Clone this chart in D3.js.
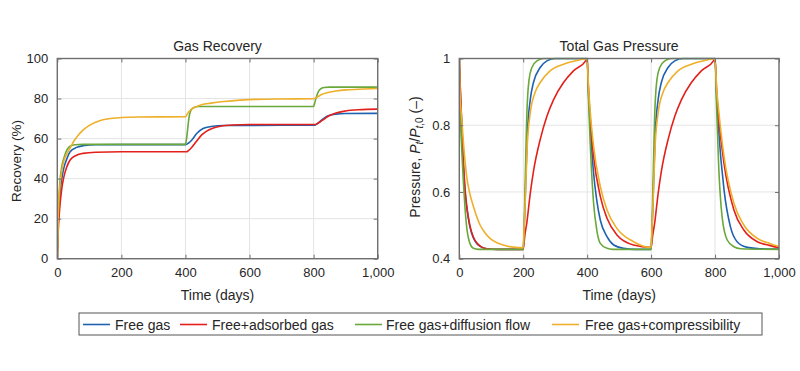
<!DOCTYPE html>
<html><head><meta charset="utf-8">
<script src="https://cdn.jsdelivr.net/npm/d3@7"></script>
<style>
body{margin:0;background:#fff}
svg{display:block}
text{font-family:"Liberation Sans",Arial,Helvetica,sans-serif;fill:#262626}
</style>
</head><body>
<svg id="c" width="800" height="371"></svg>
<script>
// ---------- data ----------
const seriesNames = ["Free gas", "Free+adsorbed gas", "Free gas+diffusion flow", "Free gas+compressibility"];
const seriesColors = ["#1f62b0", "#e3201b", "#6aa83a", "#eeaf2a"];

const xTicks = [0, 200, 400, 600, 800, 1000];
const xTickLabels = ["0", "200", "400", "600", "800", "1,000"];
const recYTicks = [0, 20, 40, 60, 80, 100];
const recYTickLabels = ["0", "20", "40", "60", "80", "100"];
const presYTicks = [0.4, 0.6, 0.8, 1];
const presYTickLabels = ["0.4", "0.6", "0.8", "1"];

// Gas recovery (%) vs time (days)
const recFree = [[0,0],[3,18],[8,32],[14,40],[20,45],[30,50],[40,53.4],[60,55.6],[80,56.4],[120,56.9],[200,57],[400,57],[410,57.8],[420,59.3],[435,62.5],[455,65],[480,66],[520,66.5],[600,66.6],[803,66.7],[810,67.3],[820,68.6],[835,70.5],[850,71.6],[870,72.2],[900,72.5],[1000,72.6]];
const recAdsorbed = [[0,0],[3,14],[8,26],[14,35],[20,40.5],[30,46],[40,49.3],[60,51.7],[80,52.6],[120,53.2],[200,53.4],[403,53.4],[410,54.1],[420,55.7],[435,58.8],[450,61.7],[465,63.6],[485,65.2],[510,66.2],[550,66.8],[600,67],[805,67],[812,67.5],[820,68.3],[835,70],[850,71.5],[870,72.8],[900,73.8],[940,74.4],[1000,74.7]];
const recDiffusion = [[0,0],[3,22],[8,38],[14,46],[20,50],[30,54.3],[40,56.2],[55,56.9],[80,57.1],[400,57.1],[402,58.5],[405,62],[408,66.5],[411,70.5],[415,73.3],[420,74.8],[428,75.6],[440,76],[800,76],[803,77.5],[808,80.5],[815,83.5],[822,84.8],[832,85.5],[850,85.7],[1000,85.7]];
const recCompress = [[0,0],[3,22],[8,36],[14,44],[20,48.5],[30,52.5],[40,55.3],[50,58.3],[60,60.6],[80,64.2],[100,66.6],[130,68.8],[160,69.9],[200,70.5],[250,70.8],[400,70.9],[404,71.8],[410,73.3],[418,74.6],[430,75.7],[450,76.9],[480,77.7],[520,78.5],[570,79.2],[620,79.6],[700,79.8],[800,79.9],[810,80.6],[825,82],[845,83],[870,83.8],[910,84.4],[960,84.8],[1000,85]];

// Total gas pressure Pt/Pt,0 vs time (days)
const presFree = [[0,1],[4,0.88],[8,0.79],[13,0.68],[18,0.6],[23,0.556],[33,0.496],[44,0.462],[55,0.445],[65,0.437],[86,0.43],[120,0.428],[200,0.428],[203,0.49],[206,0.576],[213,0.777],[222,0.877],[232,0.928],[253,0.973],[274,0.993],[300,1],[400,1],[404,0.9],[409,0.807],[420,0.657],[430,0.575],[441,0.516],[462,0.466],[483,0.441],[514,0.431],[550,0.428],[600,0.428],[603,0.49],[606,0.576],[613,0.777],[622,0.877],[632,0.928],[653,0.973],[674,0.993],[700,1],[800,1],[805,0.88],[811,0.787],[828,0.607],[848,0.496],[869,0.451],[901,0.434],[940,0.43],[1000,0.429]];
const presAdsorbed = [[0,1],[4,0.89],[8,0.8],[13,0.685],[18,0.61],[23,0.56],[33,0.5],[44,0.465],[55,0.447],[65,0.438],[86,0.43],[120,0.428],[200,0.428],[205,0.47],[211,0.506],[222,0.596],[232,0.662],[253,0.757],[274,0.827],[295,0.877],[326,0.928],[357,0.963],[397,0.995],[400,1],[404,0.91],[409,0.827],[420,0.707],[441,0.587],[462,0.521],[493,0.471],[545,0.441],[598,0.434],[600,0.434],[605,0.47],[611,0.506],[622,0.596],[632,0.662],[653,0.757],[674,0.827],[695,0.877],[726,0.928],[757,0.963],[797,0.995],[800,1],[805,0.9],[811,0.827],[828,0.686],[859,0.546],[890,0.486],[932,0.451],[970,0.44],[995,0.434],[1000,0.433]];
const presDiffusion = [[0,1],[1,0.86],[3,0.82],[7,0.74],[13,0.627],[18,0.55],[23,0.496],[33,0.446],[44,0.431],[60,0.428],[200,0.428],[203,0.5],[206,0.627],[209,0.75],[211,0.827],[214,0.89],[218,0.935],[227,0.973],[243,0.993],[265,1],[400,1],[404,0.88],[409,0.757],[420,0.567],[430,0.486],[441,0.446],[462,0.431],[480,0.428],[600,0.428],[603,0.5],[606,0.627],[609,0.75],[611,0.827],[614,0.89],[618,0.935],[627,0.973],[643,0.993],[665,1],[800,1],[805,0.85],[811,0.686],[822,0.526],[838,0.456],[859,0.436],[880,0.43],[1000,0.428]];
const presCompress = [[0,1],[2,0.9],[7,0.827],[13,0.747],[23,0.647],[33,0.595],[44,0.557],[65,0.501],[80,0.478],[96,0.461],[120,0.447],[148,0.438],[175,0.434],[200,0.433],[203,0.5],[206,0.566],[213,0.747],[222,0.837],[237,0.898],[253,0.928],[284,0.963],[326,0.983],[378,0.996],[400,1],[404,0.92],[409,0.848],[420,0.737],[441,0.617],[462,0.546],[493,0.491],[545,0.451],[598,0.434],[600,0.434],[603,0.5],[606,0.566],[613,0.747],[622,0.837],[637,0.898],[653,0.928],[684,0.963],[726,0.983],[778,0.996],[800,1],[805,0.91],[811,0.848],[828,0.707],[859,0.566],[890,0.501],[932,0.461],[970,0.446],[995,0.438],[1000,0.437]];

// ---------- drawing ----------
const svg = d3.select("#c");
const boxColor = "#6f6f6f", gridColor = "#e4e4e4";

function panel(opt) {
  const x = d3.scaleLinear().domain([0, 1000]).range([opt.left, opt.right]);
  const y = d3.scaleLinear().domain(opt.yDomain).range([opt.bottom, opt.top]);
  const g = svg.append("g");
  g.selectAll(".gx").data(xTicks).join("line")
    .attr("x1", d => x(d)).attr("x2", d => x(d)).attr("y1", opt.top).attr("y2", opt.bottom)
    .attr("stroke", gridColor).attr("stroke-width", 1);
  g.selectAll(".gy").data(opt.yTicks).join("line")
    .attr("y1", d => y(d)).attr("y2", d => y(d)).attr("x1", opt.left).attr("x2", opt.right)
    .attr("stroke", gridColor).attr("stroke-width", 1);
  const cid = "clip" + opt.id;
  svg.append("clipPath").attr("id", cid).append("rect")
    .attr("x", opt.left).attr("y", opt.top - 1).attr("width", opt.right - opt.left).attr("height", opt.bottom - opt.top + 2);
  const line = d3.line().x(d => x(d[0])).y(d => y(d[1])).curve(d3.curveMonotoneX);
  const lg = g.append("g").attr("clip-path", `url(#${cid})`);
  opt.series.forEach((s, i) => {
    lg.append("path").attr("d", line(s)).attr("fill", "none")
      .attr("stroke", seriesColors[i]).attr("stroke-width", 1.6).attr("stroke-linejoin", "round");
  });
  const tl = 4;
  const ax = (gen, tr) => {
    const a = g.append("g").attr("transform", tr).call(gen);
    a.select(".domain").remove();
    a.selectAll("line").attr("stroke", boxColor).attr("stroke-width", 1);
    return a;
  };
  ax(d3.axisBottom(x).tickValues(xTicks).tickFormat((d, i) => xTickLabels[i]).tickSizeInner(-tl).tickPadding(9), `translate(0,${opt.bottom})`);
  ax(d3.axisTop(x).tickValues(xTicks).tickFormat("").tickSizeInner(-tl), `translate(0,${opt.top})`);
  ax(d3.axisLeft(y).tickValues(opt.yTicks).tickFormat((d, i) => opt.yTickLabels[i]).tickSizeInner(-tl).tickPadding(9), `translate(${opt.left},0)`);
  ax(d3.axisRight(y).tickValues(opt.yTicks).tickFormat("").tickSizeInner(-tl), `translate(${opt.right},0)`);
  g.selectAll("g.tick text").attr("font-size", 13).attr("fill", "#262626")
    .style("font-family", '"Liberation Sans",Arial,sans-serif');
  g.append("rect").attr("x", opt.left).attr("y", opt.top).attr("width", opt.right - opt.left)
    .attr("height", opt.bottom - opt.top).attr("fill", "none").attr("stroke", boxColor).attr("stroke-width", 1.4);
  g.append("text").attr("x", (opt.left + opt.right) / 2).attr("y", 51).attr("text-anchor", "middle")
    .attr("font-size", 14).text(opt.title);
  g.append("text").attr("x", (opt.left + opt.right) / 2).attr("y", 300).attr("text-anchor", "middle")
    .attr("font-size", 14).text("Time (days)");
  return { g, x, y };
}

const p1 = panel({ id: 1, left: 57.3, right: 377.7, top: 58.5, bottom: 258.7, yDomain: [0, 100],
  yTicks: recYTicks, yTickLabels: recYTickLabels,
  series: [recFree, recAdsorbed, recDiffusion, recCompress], title: "Gas Recovery" });
p1.g.append("text").attr("transform", "translate(21,161) rotate(-90)").attr("text-anchor", "middle")
  .attr("font-size", 13.5).text("Recovery (%)");

const p2 = panel({ id: 2, left: 459.3, right: 779, top: 58.5, bottom: 258.7, yDomain: [0.4, 1],
  yTicks: presYTicks, yTickLabels: presYTickLabels,
  series: [presFree, presAdsorbed, presDiffusion, presCompress], title: "Total Gas Pressure" });
const yl = p2.g.append("text").attr("transform", "translate(420,157) rotate(-90)").attr("text-anchor", "middle")
  .attr("font-size", 14);
yl.append("tspan").text("Pressure, ");
yl.append("tspan").attr("font-style", "italic").text("P");
yl.append("tspan").attr("font-style", "italic").attr("font-size", 10).attr("dy", 3).text("t");
yl.append("tspan").attr("dy", -3).text("/");
yl.append("tspan").attr("font-style", "italic").text("P");
yl.append("tspan").attr("font-style", "italic").attr("font-size", 10).attr("dy", 3).text("t");
yl.append("tspan").attr("font-size", 10).text(",0");
yl.append("tspan").attr("dy", -3).text(" (\u2013)");

// legend
const leg = svg.append("g");
leg.append("rect").attr("x", 79).attr("y", 313).attr("width", 683).attr("height", 22)
  .attr("fill", "#fff").attr("stroke", "#555").attr("stroke-width", 1);
const legLineX = [83, 180, 355, 552];
const legTextX = [115, 212, 386, 585];
seriesNames.forEach((n, i) => {
  leg.append("line").attr("x1", legLineX[i]).attr("x2", legLineX[i] + 27).attr("y1", 324.5).attr("y2", 324.5)
    .attr("stroke", seriesColors[i]).attr("stroke-width", 1.6);
  leg.append("text").attr("x", legTextX[i]).attr("y", 329.5).attr("font-size", 14).text(n);
});
</script>
</body></html>
